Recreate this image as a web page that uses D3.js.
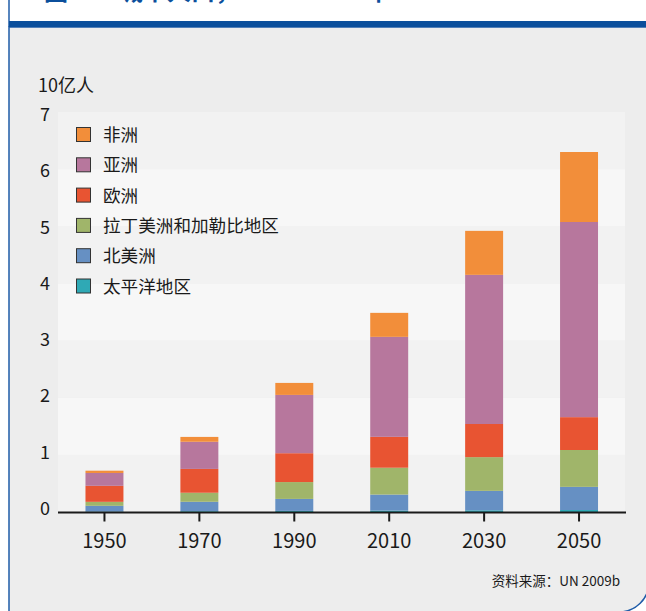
<!DOCTYPE html>
<html>
<head>
<meta charset="utf-8">
<script src="https://cdn.jsdelivr.net/npm/d3@7"></script>
<style>
  body { margin: 0; background: #fff; }
  text { font-family: "Noto Sans CJK SC", "Noto Sans", sans-serif; fill: #1a1a1a; }
</style>
</head>
<body>
<div id="chart"></div>
<script>
// years on the x axis
var years = ["1950", "1970", "1990", "2010", "2030", "2050"];

// urban population by region, billions
var pacific      = [0.008, 0.014, 0.019, 0.025, 0.030, 0.035];
var northAmerica = [0.100, 0.165, 0.210, 0.280, 0.340, 0.405];
var latinAmerica = [0.070, 0.158, 0.295, 0.470, 0.590, 0.645];
var europe       = [0.280, 0.417, 0.505, 0.540, 0.580, 0.575];
var asia         = [0.225, 0.475, 1.020, 1.750, 2.610, 3.415];
var africa       = [0.040, 0.085, 0.210, 0.420, 0.770, 1.225];

// stacking order, bottom to top
var keys = ["pacific", "northAmerica", "latinAmerica", "europe", "asia", "africa"];
var labels = {
	pacific: "太平洋地区",
	northAmerica: "北美洲",
	latinAmerica: "拉丁美洲和加勒比地区",
	europe: "欧洲",
	asia: "亚洲",
	africa: "非洲"
};
var colors = {
	pacific: "#2fa9b5",
	northAmerica: "#6690c3",
	latinAmerica: "#a0b56a",
	europe: "#e85432",
	asia: "#b7779d",
	africa: "#f28e3a"
};
var yTicks = [0, 1, 2, 3, 4, 5, 6, 7];

var size = { width: 646, height: 611 };
var plot = { left: 58, right: 626, top: 112, bottom: 512 };

var svg = d3.select("#chart").append("svg")
	.attr("width", size.width)
	.attr("height", size.height);

// frame: grey panel with rounded bottom-right corner
var R = 649, B = 612, r = 30, L = 9, T = 27;
svg.append("path")
	.attr("d", "M" + L + "," + T + " H" + R + " V" + (B - r) +
		" A" + r + "," + r + " 0 0 1 " + (R - r) + "," + B + " H" + L + " Z")
	.attr("fill", "#ededed")
	.attr("stroke", "#1f5ca8")
	.attr("stroke-width", 1.5);

svg.append("line")
	.attr("x1", L).attr("x2", L).attr("y1", 0).attr("y2", T)
	.attr("stroke", "#1f5ca8").attr("stroke-width", 1.5);

// header band
svg.append("rect")
	.attr("x", L).attr("y", 21)
	.attr("width", size.width - L).attr("height", 6)
	.attr("fill", "#0b4f9c");

// title, mostly cut off above the page
svg.append("text").attr("x", 44).attr("y", 0)
	.style("font-size", "24px").style("font-weight", "bold").style("fill", "#0b4f9c")
	.text("图");
svg.append("text").attr("x", 119).attr("y", 0)
	.style("font-size", "24px").style("font-weight", "bold").style("fill", "#0b4f9c")
	.text("城市人口，1950–2050年");

// scales
var x = d3.scaleBand()
	.domain(years)
	.range([plot.left - 1, plot.right + 0.5])
	.paddingInner(0.6)
	.paddingOuter(0.3);

var y = d3.scaleLinear()
	.domain([0, 7])
	.range([plot.bottom, plot.top]);

// tick labels sit a little inside the band edges
var yLabel = d3.scaleLinear()
	.domain([0, 7])
	.range([509, 115]);

// alternating background bands
var g = svg.append("g");
g.selectAll(".band")
	.data(d3.range(0, 7))
	.enter().append("rect")
	.attr("x", plot.left)
	.attr("width", plot.right - 1 - plot.left)
	.attr("y", function(d) { return y(d + 1); })
	.attr("height", function(d) { return y(d) - y(d + 1); })
	.attr("fill", function(d) { return d % 2 === 0 ? "#f2f2f2" : "#f7f7f7"; });

// stacked data
var table = years.map(function(yr, i) {
	return {
		year: yr,
		pacific: pacific[i],
		northAmerica: northAmerica[i],
		latinAmerica: latinAmerica[i],
		europe: europe[i],
		asia: asia[i],
		africa: africa[i]
	};
});
var stacked = d3.stack().keys(keys)(table);

g.selectAll(".layer")
	.data(stacked)
	.enter().append("g")
	.attr("fill", function(d) { return colors[d.key]; })
	.selectAll("rect")
	.data(function(d) { return d; })
	.enter().append("rect")
	.attr("x", function(d) { return x(d.data.year); })
	.attr("width", x.bandwidth())
	.attr("y", function(d) { return y(d[1]); })
	.attr("height", function(d) { return y(d[0]) - y(d[1]); });

// x axis
var xAxis = d3.axisBottom(x).tickSize(9).tickSizeOuter(0);
var xg = svg.append("g")
	.attr("transform", "translate(0," + (plot.bottom + 0.5) + ")")
	.call(xAxis);
xg.select(".domain").attr("stroke", "#1a1a1a").attr("stroke-width", 2)
	.attr("d", "M" + plot.left + ",0H" + plot.right);
xg.selectAll(".tick line").attr("stroke", "#1a1a1a").attr("stroke-width", 2);
xg.selectAll(".tick text")
	.attr("y", 35)
	.attr("dy", 0)
	.style("font-size", "20px")
	.style("fill", "#1a1a1a");

// y tick labels
svg.append("g").selectAll("text")
	.data(yTicks)
	.enter().append("text")
	.attr("x", 45)
	.attr("y", function(d) { return yLabel(d) + 6; })
	.attr("text-anchor", "middle")
	.style("font-size", "18px")
	.text(function(d) { return d; });

// unit label
svg.append("text")
	.attr("x", 38).attr("y", 92)
	.style("font-size", "18px")
	.text("10亿人");

// legend, top to bottom
var legendKeys = keys.slice().reverse();
var legend = svg.append("g").attr("transform", "translate(76,127)");
legendKeys.forEach(function(k, i) {
	var row = legend.append("g").attr("transform", "translate(0," + (i * 30.3) + ")");
	row.append("rect")
		.attr("x", 0.5).attr("y", 0.5)
		.attr("width", 14).attr("height", 14)
		.attr("fill", colors[k])
		.attr("stroke", "#333")
		.attr("stroke-width", 1);
	row.append("text")
		.attr("x", 27).attr("y", 14)
		.style("font-size", "17.6px")
		.text(labels[k]);
});

// source
svg.append("text")
	.attr("x", 620).attr("y", 586)
	.attr("text-anchor", "end")
	.style("font-size", "13.5px")
	.text("资料来源：UN 2009b");
</script>
</body>
</html>
